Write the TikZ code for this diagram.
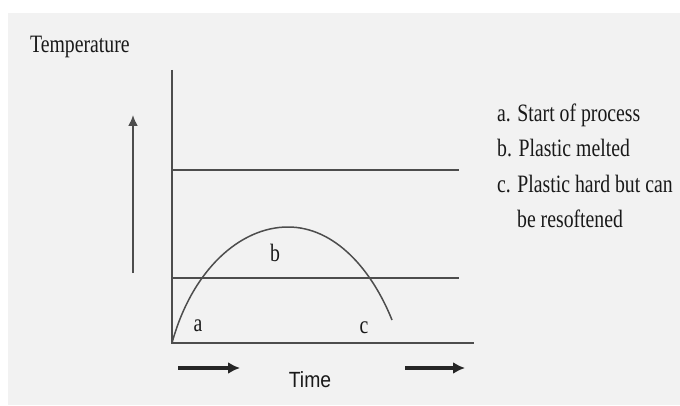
\documentclass[tikz,border=0pt]{standalone}
\usepackage{fontspec}
\setmainfont{Liberation Serif}
\newfontfamily\timefont{Liberation Sans}
\usepackage{tikz}
\usetikzlibrary{arrows.meta,positioning,calc}
\definecolor{panelgray}{HTML}{F2F2F2}
\definecolor{linegray}{HTML}{4D4D4D}

\begin{document}
\begin{tikzpicture}[x=1pt, y=1pt, >={Latex[length=12pt,width=12pt]},
    every node/.style={font=\fontsize{25}{35}\selectfont, text=black!90, inner sep=0pt},
    squeeze/.style={xscale=0.79},
    axisline/.style={draw=linegray, line width=2.4pt},
    bigarrow/.style={->, draw=black!85, line width=3.5pt}]
    \useasboundingbox (0,0) rectangle (680,405);
    \fill [panelgray] (8,0) rectangle (680,392);

    % axes and level lines
    \coordinate (top) at (172,335);
    \coordinate (origin) at (172,62);
    \coordinate (xend) at (474,62);
    \coordinate (hiL) at (172,235);
    \coordinate (hiR) at (459,235);
    \coordinate (loL) at (172,127);
    \coordinate (loR) at (459,127);
    \draw [axisline] (top) -- (origin) -- (xend);
    \draw [axisline] (hiL) -- (hiR);
    \draw [axisline] (loL) -- (loR);

    % temperature curve
    \coordinate (peak) at (288,178);
    \coordinate (stop) at (392,85);
    \draw [linegray, line width=1.5pt] (origin) .. controls (192,135) and (240,178) .. (peak)
        .. controls (335,178) and (372,135) .. (stop);

    \node [squeeze, anchor=base] (a) at (198,74) {a};
    \node [squeeze, anchor=base] (b) at (275,144) {b};
    \node [squeeze, anchor=base] (c) at (364,72) {c};

    % direction arrows
    \coordinate (upS) at (133,132);
    \coordinate (upE) at (133,290);
    \draw [-{Latex[length=11pt,width=10pt]}, draw=linegray, line width=2pt] (upS) -- (upE);
    \node [squeeze, anchor=base west] (temp) at (30,352) {Temperature};

    \coordinate (l1) at (178,37);
    \coordinate (l2) at (240,37);
    \coordinate (r1) at (405,37);
    \coordinate (r2) at (465,37);
    \draw [bigarrow] (l1) -- (l2);
    \draw [bigarrow] (r1) -- (r2);
    \node [font=\timefont\fontsize{22}{24}\selectfont, xscale=0.88, anchor=base] (time) at (310,18) {Time};

    % legend
    \node [squeeze, anchor=base west] (la) at (497,283) {a. Start of process};
    \node [squeeze, anchor=base west] (lb) at (497,248) {b. Plastic melted};
    \node [squeeze, anchor=base west] (lc) at (497,213) {c. Plastic hard but can};
    \node [squeeze, anchor=base west] (lc2) at (517,178) {be resoftened};
\end{tikzpicture}
\end{document}
